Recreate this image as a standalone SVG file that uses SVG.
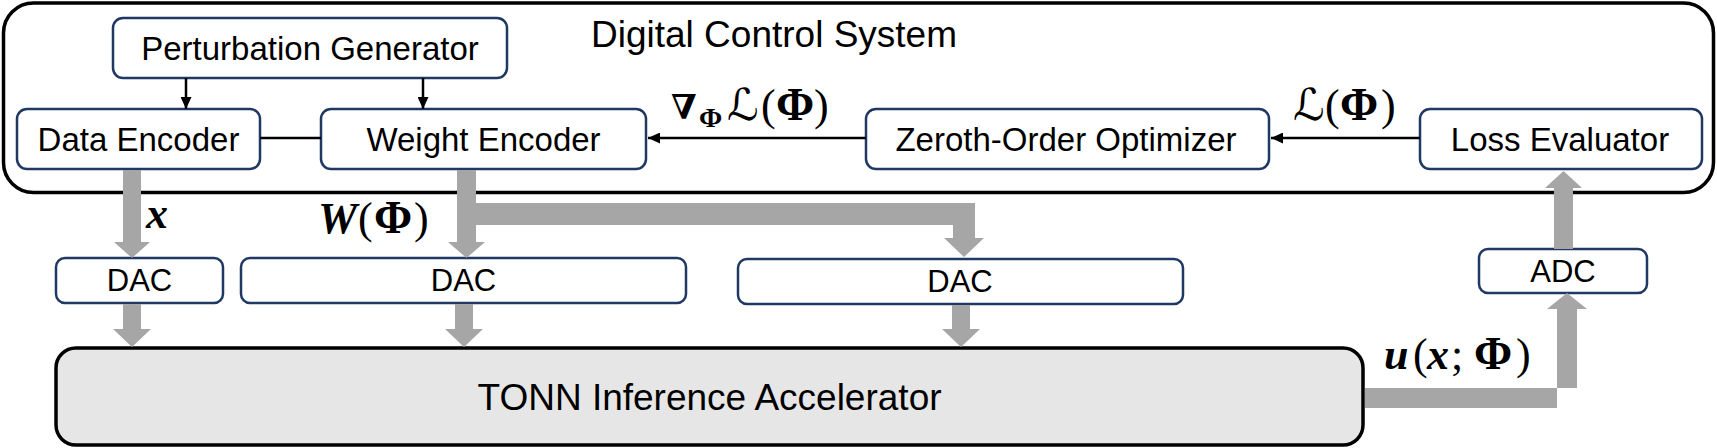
<svg xmlns="http://www.w3.org/2000/svg" width="1717" height="448" viewBox="0 0 1717 448">
<style>
.box{fill:#fff;stroke:#1f3864;stroke-width:2.5}
.t{font-family:"Liberation Sans",Arial,sans-serif;font-size:33px;fill:#000;text-anchor:middle}
.s{font-size:31px}
.g{fill:#a6a6a6;stroke:none}
.ln{stroke:#000;stroke-width:2.5;fill:none}
.m{font-family:"Liberation Serif","DejaVu Serif","DejaVu Sans",serif;font-size:44px;fill:#000}
.bi{font-weight:bold;font-style:italic}
.b{font-weight:bold}
.phi{font-weight:bold;font-size:46px}
</style>
<defs>
<marker id="ah" markerUnits="userSpaceOnUse" markerWidth="12" markerHeight="11" refX="12" refY="5.5" orient="auto">
<path d="M0,0 L12,5.5 L0,11 z" fill="#000"/>
</marker>
</defs>
<rect width="1717" height="448" fill="#fff"/>
<g id="digital-control-system">
<rect x="3.5" y="3" width="1710" height="189.5" rx="30" fill="none" stroke="#000" stroke-width="3.5"/>
<text class="t" x="591" y="47" style="text-anchor:start;font-size:37px">Digital Control System</text>
</g>
<g id="tonn">
<rect x="56" y="348" width="1307" height="97" rx="20" fill="#e6e6e6" stroke="#000" stroke-width="3.5"/>
<text class="t" x="709.5" y="410" style="font-size:37px">TONN Inference Accelerator</text>
</g>
<g id="perturbation-generator">
<rect class="box" x="113" y="18" width="394" height="60" rx="10"/>
<text class="t" x="310" y="60">Perturbation Generator</text>
</g>
<g id="data-encoder">
<rect class="box" x="17" y="109" width="243" height="60" rx="10"/>
<text class="t" x="138.5" y="150.5">Data Encoder</text>
</g>
<g id="weight-encoder">
<rect class="box" x="321" y="109" width="325" height="60" rx="10"/>
<text class="t" x="483.5" y="150.5">Weight Encoder</text>
</g>
<g id="zeroth-order-optimizer">
<rect class="box" x="866" y="109" width="403" height="60" rx="10"/>
<text class="t" x="1066" y="150.5">Zeroth-Order Optimizer</text>
</g>
<g id="loss-evaluator">
<rect class="box" x="1420" y="109" width="282" height="60" rx="10"/>
<text class="t" x="1560" y="150.5">Loss Evaluator</text>
</g>
<g id="dac1">
<rect class="box" x="56" y="258" width="167" height="45" rx="9"/>
<text class="t s" x="139.5" y="291">DAC</text>
</g>
<g id="dac2">
<rect class="box" x="241" y="258" width="445" height="45" rx="9"/>
<text class="t s" x="463.5" y="291">DAC</text>
</g>
<g id="dac3">
<rect class="box" x="738" y="259" width="445" height="45" rx="9"/>
<text class="t s" x="960" y="292">DAC</text>
</g>
<g id="adc">
<rect class="box" x="1479" y="249" width="168" height="44" rx="9"/>
<text class="t s" x="1563" y="282">ADC</text>
</g>
<g id="connectors">
<line class="ln" x1="186" y1="78" x2="186" y2="109" marker-end="url(#ah)"/>
<line class="ln" x1="423" y1="78" x2="423" y2="109" marker-end="url(#ah)"/>
<line class="ln" x1="260" y1="138" x2="321" y2="138"/>
<line class="ln" x1="866" y1="138" x2="648" y2="138" marker-end="url(#ah)"/>
<line class="ln" x1="1420" y1="138" x2="1271" y2="138" marker-end="url(#ah)"/>
<polygon class="g" points="123,170 141,170 141,242 150,242 132,258 114,242 123,242"/>
<polygon class="g" points="123,304 141,304 141,329 151,329 132,347 113,329 123,329"/>
<polygon class="g" points="457,170 476,170 476,242 485,242 466.5,258 448,242 457,242"/>
<polygon class="g" points="470,203 975,203 975,238 984,238 964,257 944,238 953,238 953,225 470,225"/>
<polygon class="g" points="455,304 473,304 473,329 483,329 464,347 445,329 455,329"/>
<polygon class="g" points="952,305 970,305 970,329 980,329 961,347 942,329 952,329"/>
<polygon class="g" points="1365,388 1577,388 1577,309 1587,309 1567,293 1547,309 1557,309 1557,408 1365,408"/>
<polygon class="g" points="1554,249 1573,249 1573,188 1582,188 1563.5,171 1545,188 1554,188"/>
</g>
<g id="labels">
<text class="m" x="146" y="228"><tspan class="bi">x</tspan></text>
<text class="m" x="318" y="233"><tspan class="bi">W</tspan><tspan x="358">(</tspan><tspan class="phi" x="374">Φ</tspan><tspan x="414">)</tspan></text>
<text class="m" x="671" y="119" style="font-size:34px"><tspan class="b">∇</tspan></text>
<text class="m" x="699" y="127" style="font-size:28px"><tspan class="b">Φ</tspan></text>
<text class="m" x="727" y="120"><tspan>ℒ</tspan><tspan x="761">(</tspan><tspan class="phi" x="776">Φ</tspan><tspan x="814">)</tspan></text>
<text class="m" x="1293" y="120"><tspan>ℒ</tspan><tspan x="1325">(</tspan><tspan class="phi" x="1340">Φ</tspan><tspan x="1381">)</tspan></text>
<text class="m" x="1384" y="369"><tspan class="bi">u</tspan><tspan x="1413">(</tspan><tspan class="bi" x="1427">x</tspan><tspan x="1451">;</tspan><tspan class="phi" x="1474">Φ</tspan><tspan x="1516">)</tspan></text>
</g>
</svg>
